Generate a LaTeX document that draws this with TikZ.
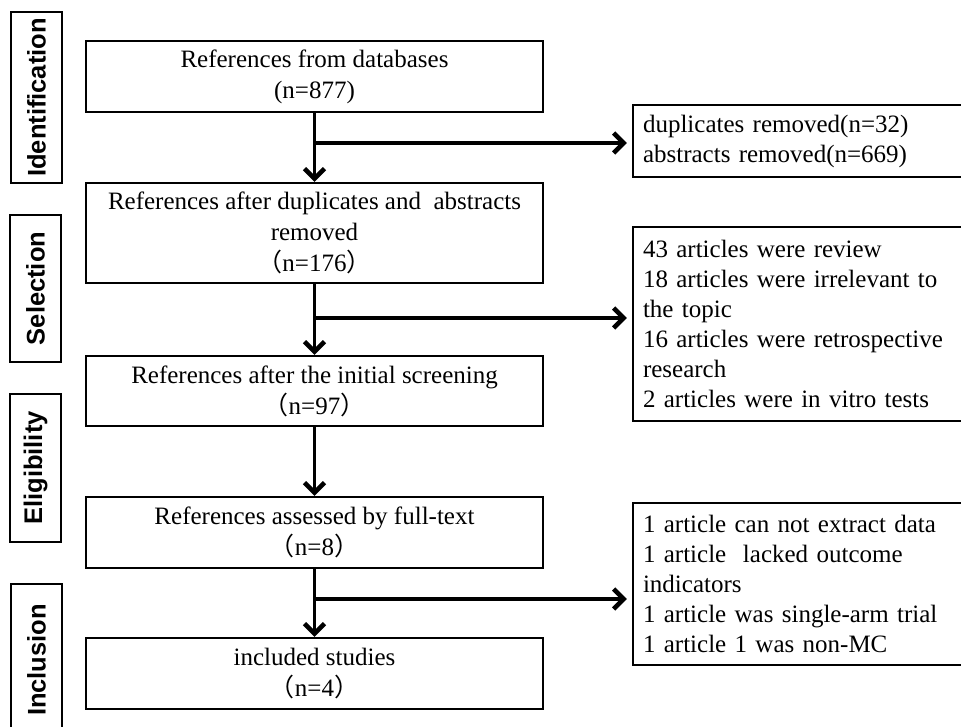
\documentclass[tikz,border=0pt]{standalone}
\usepackage{fontspec}
\setmainfont{Liberation Serif}
\newfontfamily\labelfont{Liberation Sans}
\newfontfamily\cjk{Noto Sans CJK SC}
\usetikzlibrary{arrows.meta}
\begin{document}
\begin{tikzpicture}[x=1pt,y=-1pt,
  mainbox/.style={draw, line width=2.4pt, inner sep=0pt, minimum width=457pt, align=center,
    font=\fontsize{25}{31}\selectfont},
  sidebox/.style={draw, line width=2.4pt, inner ysep=0pt, inner xsep=10pt, text width=322pt, align=left,
    font=\fontsize{25}{30}\selectfont},
  stage/.style={draw, line width=2.4pt, inner sep=0pt, minimum height=51pt, rotate=90,
    font=\labelfont\bfseries\fontsize{25.5}{30}\selectfont},
  arr/.style={line width=3.8pt, -{Straight Barb[length=10pt,width=20pt,line width=4.5pt]}}
]
\useasboundingbox (0,0) rectangle (961,727);
\clip (0,0) rectangle (961,727);

% stage labels
\node[stage, minimum width=171pt] (s1) at (36.5,97.5) {Identification};
\node[stage, minimum width=147pt] (s2) at (35.5,288.5) {Selection};
\node[stage, minimum width=148pt] (s3) at (35.5,468) {Eligibility};
\node[stage, minimum width=152pt] (s4) at (36.5,660) {Inclusion};

% main boxes
\node[mainbox, minimum height=71pt] (b1) at (314.5,76.5) {References from databases\\(n=877)};
\node[mainbox, minimum height=100pt] (b2) at (314.5,233) {References after duplicates and~ abstracts\\removed\\{\cjk（}n=176{\cjk）}};
\node[mainbox, minimum height=70pt] (b3) at (314.5,391) {References after the initial screening\\{\cjk（}n=97{\cjk）}};
\node[mainbox, minimum height=71pt] (b4) at (314.5,532.5) {References assessed by full-text\\{\cjk（}n=8{\cjk）}};
\node[mainbox, minimum height=71pt] (b5) at (314.5,673.5) {included studies\\{\cjk（}n=4{\cjk）}};

% side boxes
\node[sidebox, minimum height=72pt] (r1) at (804,141) {duplicates removed(n=32)\\abstracts removed(n=669)};
\node[sidebox, minimum height=194pt] (r2) at (804,324) {43 articles were review\\18 articles were irrelevant to\\the topic\\16 articles were retrospective\\research\\2 articles were in vitro tests};
\node[sidebox, minimum height=162pt] (r3) at (804,584) {1 article can not extract data\\1 article~ lacked outcome\\indicators\\1 article was single-arm trial\\1 article 1 was non-MC};

% junctions
\coordinate (j1) at (314.5,143);
\coordinate (j2) at (314.5,318);
\coordinate (j3) at (314.5,599);

% vertical arrows
\draw[arr] (b1.south) -- (b2.north);
\draw[arr] (b2.south) -- (b3.north);
\draw[arr] (b3.south) -- (b4.north);
\draw[arr] (b4.south) -- (b5.north);

% branch arrows
\draw[arr, shorten >=5pt] (j1) -- (r1.west |- j1);
\draw[arr, shorten >=5pt] (j2) -- (r2.west |- j2);
\draw[arr, shorten >=5pt] (j3) -- (r3.west |- j3);
\end{tikzpicture}
\end{document}
